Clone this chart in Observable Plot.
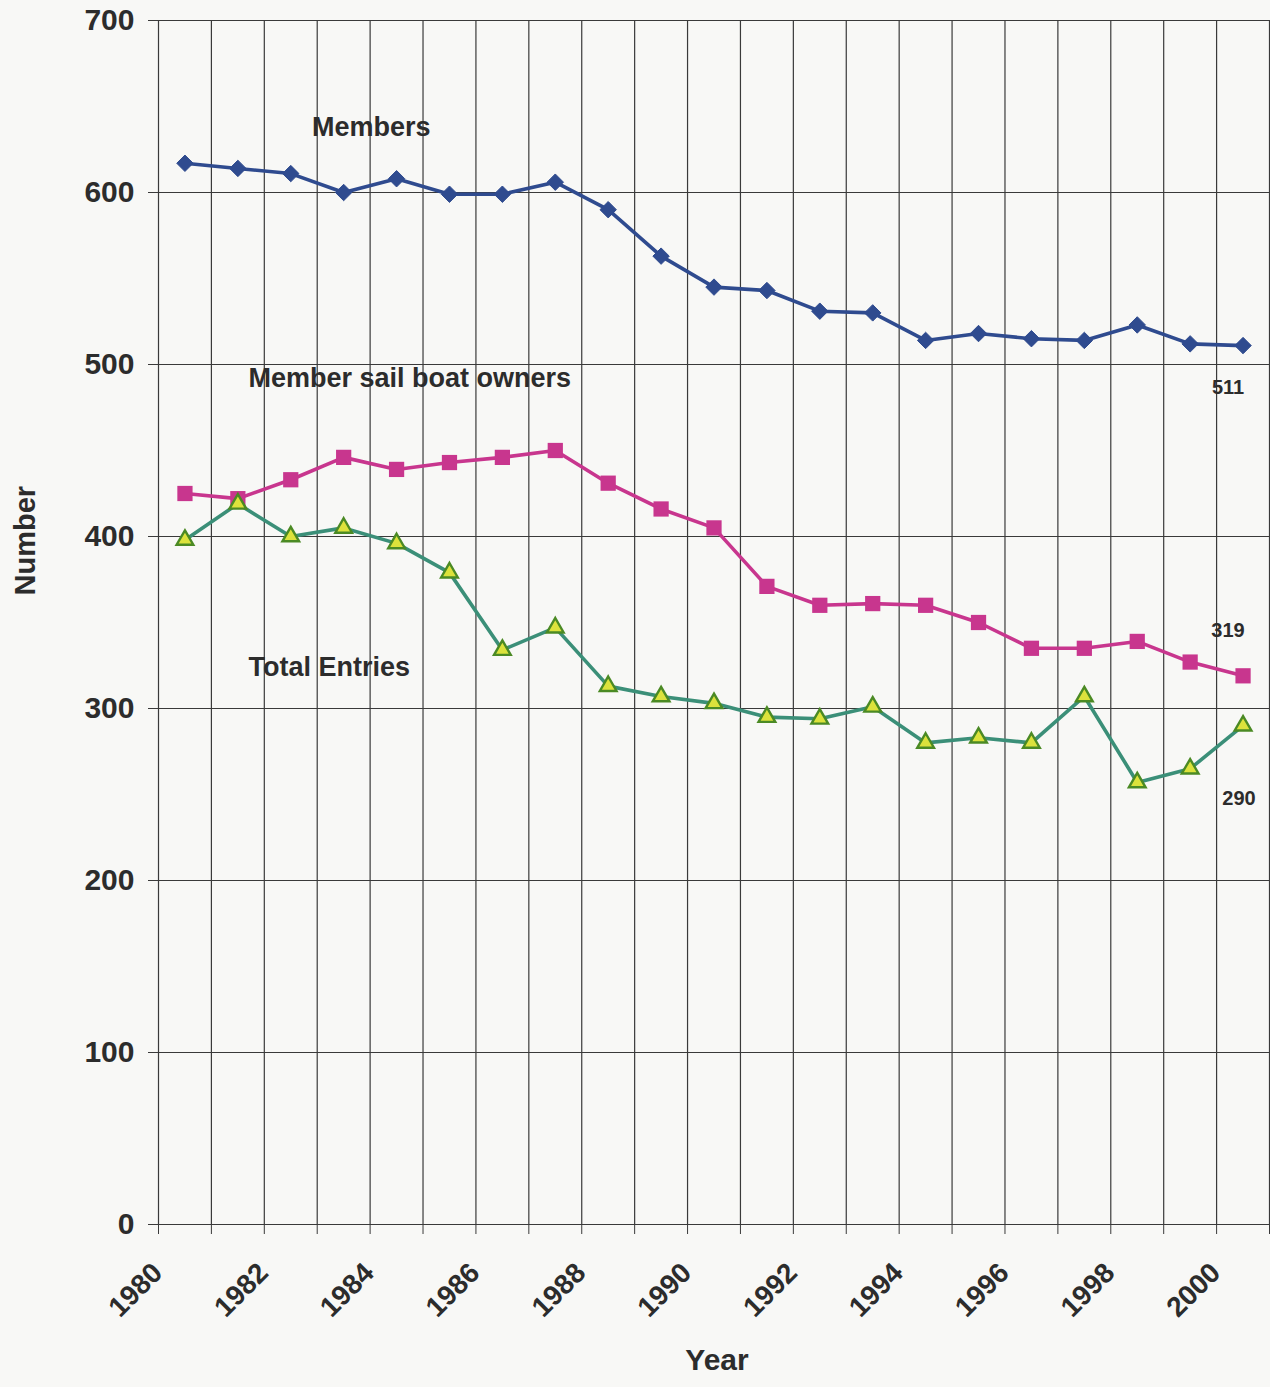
<!DOCTYPE html>
<html>
<head>
<meta charset="utf-8">
<script src="https://cdn.jsdelivr.net/npm/d3@7"></script>
<script src="https://cdn.jsdelivr.net/npm/@observablehq/plot@0.6"></script>
<style>
  html, body { margin: 0; padding: 0; background: #f8f8f6; }
  #chart svg { display: block; }
</style>
</head>
<body>
<div id="chart"></div>
<script>
// ---- Data ----
const years = [1980, 1981, 1982, 1983, 1984, 1985, 1986, 1987, 1988, 1989, 1990,
               1991, 1992, 1993, 1994, 1995, 1996, 1997, 1998, 1999, 2000];
const members = [617, 614, 611, 600, 608, 599, 599, 606, 590, 563, 545,
                 543, 531, 530, 514, 518, 515, 514, 523, 512, 511];
const sailOwners = [425, 422, 433, 446, 439, 443, 446, 450, 431, 416, 405,
                    371, 360, 361, 360, 350, 335, 335, 339, 327, 319];
const totalEntries = [398, 419, 400, 405, 396, 379, 334, 347, 313, 307, 303,
                      295, 294, 301, 280, 283, 280, 307, 257, 265, 290];
const yTicks = [0, 100, 200, 300, 400, 500, 600, 700];
const xTickLabels = ["1980", "1982", "1984", "1986", "1988", "1990", "1992", "1994", "1996", "1998", "2000"];
const seriesNames = ["Members", "Member sail boat owners", "Total Entries"];
const nameLabelX = [1982.4, 1981.2, 1981.2];
const nameLabelY = [638, 492, 324];
const endLabels = ["511", "319", "290"];

// ---- Table built from the arrays ----
const seriesValues = [members, sailOwners, totalEntries];
const rows = seriesValues.flatMap((vals, s) =>
  vals.map((v, i) => ({series: seriesNames[s], year: years[i], value: v})));
const bySeries = s => rows.filter(r => r.series === seriesNames[s]);
const lastRow = s => bySeries(s).slice(-1);

// category boundaries (grid lines between years)
const boundaries = years.map(y => y - 0.5).concat([years[years.length - 1] + 0.5]);

const ink = "#2c2c2c";
const gridColor = "#3a3a3a";
const blue = "#2f4b8f";
const magenta = "#c8368e";
const teal = "#3b8f78";
const triFill = "#dce23c";
const triStroke = "#4b8a24";

const chart = Plot.plot({
  width: 1270,
  height: 1387,
  marginLeft: 158,
  marginRight: 1,
  marginTop: 20,
  marginBottom: 163,
  style: {background: "#f8f8f6", color: ink, fontFamily: "'Liberation Sans', Arial, sans-serif"},
  x: {domain: [boundaries[0], boundaries[boundaries.length - 1]]},
  y: {domain: [yTicks[0], yTicks[yTicks.length - 1]]},
  marks: [
    Plot.gridY(yTicks, {stroke: gridColor, strokeOpacity: 1, strokeWidth: 1.2}),
    Plot.gridX(boundaries, {stroke: gridColor, strokeOpacity: 1, strokeWidth: 1.2}),
    Plot.axisY(yTicks, {tickSize: 10, tickPadding: 14, fontSize: 30, fontWeight: "bold", label: null, stroke: gridColor}),
    Plot.axisX(boundaries, {tickSize: 10, tickFormat: () => "", label: null, stroke: gridColor}),
    Plot.text(xTickLabels, {x: d => +d, text: d => d, frameAnchor: "bottom", rotate: -45, textAnchor: "end",
      dx: -21, dy: 50, fontSize: 28, fontWeight: "bold", fill: ink}),

    // series lines + markers
    Plot.line(bySeries(0), {x: "year", y: "value", stroke: blue, strokeWidth: 3.6}),
    Plot.dot(bySeries(0), {x: "year", y: "value", symbol: "diamond2", r: 7.4, fill: blue, stroke: blue, strokeWidth: 1}),
    Plot.line(bySeries(1), {x: "year", y: "value", stroke: magenta, strokeWidth: 3.6}),
    Plot.dot(bySeries(1), {x: "year", y: "value", symbol: "square", r: 8.6, fill: magenta}),
    Plot.line(bySeries(2), {x: "year", y: "value", stroke: teal, strokeWidth: 3.6}),
    Plot.dot(bySeries(2), {x: "year", y: "value", symbol: "triangle", r: 6.2, fill: triFill, stroke: triStroke, strokeWidth: 2.4}),

    // series name labels
    Plot.text([0, 1, 2], {x: i => nameLabelX[i], y: i => nameLabelY[i], text: i => seriesNames[i],
      textAnchor: "start", fontSize: 27, fontWeight: "bold", fill: ink}),

    // end value labels
    Plot.text(lastRow(0), {x: "year", y: "value", text: () => endLabels[0], dx: -15, dy: 42, fontSize: 20, fontWeight: "bold", fill: ink}),
    Plot.text(lastRow(1), {x: "year", y: "value", text: () => endLabels[1], dx: -15, dy: -45, fontSize: 20, fontWeight: "bold", fill: ink}),
    Plot.text(lastRow(2), {x: "year", y: "value", text: () => endLabels[2], dx: -4, dy: 73, fontSize: 20, fontWeight: "bold", fill: ink}),

    // axis titles
    Plot.text(["Number"], {frameAnchor: "left", rotate: -90, dx: -133, dy: -27, fontSize: 29, fontWeight: "bold", fill: ink}),
    Plot.text(["Year"], {frameAnchor: "bottom", dx: 3, dy: 145, fontSize: 30, fontWeight: "bold", fill: ink})
  ]
});
document.getElementById("chart").appendChild(chart);
</script>
</body>
</html>
